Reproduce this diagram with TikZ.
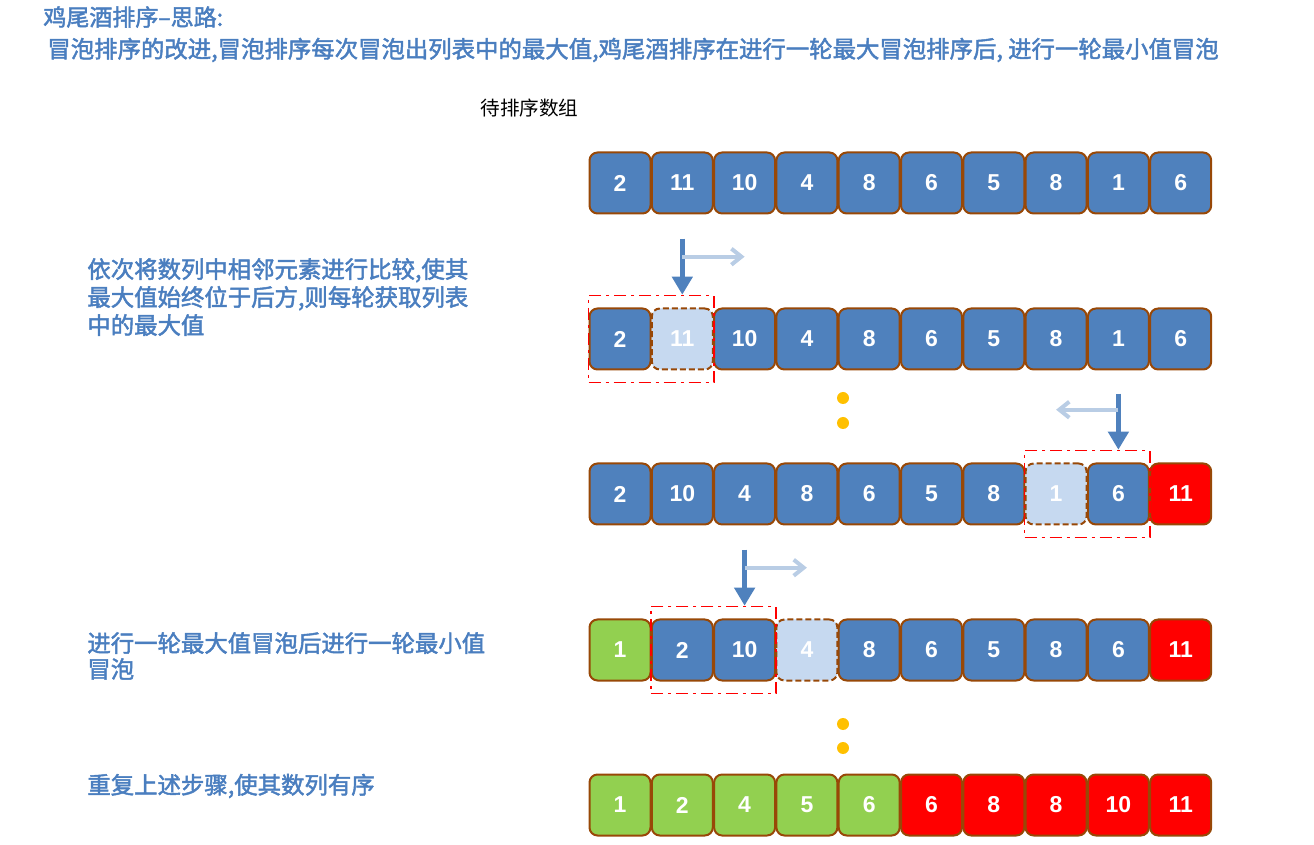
\documentclass[tikz,border=0pt]{standalone}
\usepackage{fontspec}
\usepackage{tikz}
\usetikzlibrary{positioning}
\usetikzlibrary{fit}
\usetikzlibrary{arrows.meta}
\newfontfamily\cjk{Noto Sans CJK SC}
\newfontfamily\cjkb[FakeBold=2]{Noto Sans CJK SC}
\newfontfamily\numf{Liberation Sans}
\definecolor{boxblue}{HTML}{4F81BD}
\definecolor{boxline}{HTML}{984807}
\definecolor{lightblue}{HTML}{C6D9F0}
\definecolor{boxgreen}{HTML}{92D050}
\definecolor{arrlight}{HTML}{B9CDE5}
\definecolor{txtblue}{HTML}{4A7EBF}
\definecolor{dotgold}{HTML}{FFC000}
\tikzset{
  cell/.style={draw=boxline,line width=1pt,rounded corners=4pt,minimum width=30.5pt,minimum height=30.5pt,inner sep=0pt,text=white,font=\numf\bfseries\fontsize{11.5}{13}\selectfont},
  bluecell/.style={cell,fill=boxblue},
  lightcell/.style={cell,fill=lightblue,dash pattern=on 3pt off 1.5pt},
  greencell/.style={cell,fill=boxgreen},
  redcell/.style={cell,fill=red},
  cmpframe/.style={draw=red,line width=0.8pt,dash pattern=on 6pt off 2.5pt on 1.5pt off 2.5pt,inner xsep=0pt,inner ysep=6pt},
  downarrow/.style={draw=boxblue,line width=2.5pt,-{Triangle[length=9pt,width=10pt]}},
  sidearrow/.style={draw=arrlight,line width=2pt,-{Straight Barb[length=5pt,width=8pt]}},
  dot/.style={circle,fill=dotgold,minimum size=6pt,inner sep=0pt},
  note/.style={anchor=west,inner sep=0pt,align=left,text=txtblue,font=\cjkb\fontsize{11.7}{14}\selectfont}
}
\begin{document}
\begin{tikzpicture}[x=0.5pt,y=-0.5pt,node distance=31.15pt]
  \useasboundingbox (0,0) rectangle (1314,845);
  % texts
  \node[note,font=\cjkb\fontsize{11.5}{13}\selectfont] (title) at (43,17) {鸡尾酒排序–思路:};
  \node[note] (idea) at (47,50) {冒泡排序的改进,冒泡排序每次冒泡出列表中的最大值,鸡尾酒排序在进行一轮最大冒泡排序后, 进行一轮最小值冒泡};
  \node[anchor=west,inner sep=0pt,font=\cjk\fontsize{9.8}{12}\selectfont] (input) at (480,108) {待排序数组};
  \node[note] (step1) at (87,297) {依次将数列中相邻元素进行比较,使其\\最大值始终位于后方,则每轮获取列表\\中的最大值};
  \node[note,font=\cjkb\fontsize{11.7}{13}\selectfont] (step2) at (87,656) {进行一轮最大值冒泡后进行一轮最小值\\冒泡};
  \node[note] (step3) at (87,786) {重复上述步骤,使其数列有序};

  % row 1
  \node[bluecell] (a1) at (620,183) {2};
  \node[bluecell,right of=a1] (a2) {11};
  \node[bluecell,right of=a2] (a3) {10};
  \node[bluecell,right of=a3] (a4) {4};
  \node[bluecell,right of=a4] (a5) {8};
  \node[bluecell,right of=a5] (a6) {6};
  \node[bluecell,right of=a6] (a7) {5};
  \node[bluecell,right of=a7] (a8) {8};
  \node[bluecell,right of=a8] (a9) {1};
  \node[bluecell,right of=a9] (a10) {6};

  % row 2
  \node[bluecell] (b1) at (620,339) {2};
  \node[lightcell,right of=b1] (b2) {11};
  \node[bluecell,right of=b2] (b3) {10};
  \node[bluecell,right of=b3] (b4) {4};
  \node[bluecell,right of=b4] (b5) {8};
  \node[bluecell,right of=b5] (b6) {6};
  \node[bluecell,right of=b6] (b7) {5};
  \node[bluecell,right of=b7] (b8) {8};
  \node[bluecell,right of=b8] (b9) {1};
  \node[bluecell,right of=b9] (b10) {6};

  % row 3
  \node[bluecell] (c1) at (620,494) {2};
  \node[bluecell,right of=c1] (c2) {10};
  \node[bluecell,right of=c2] (c3) {4};
  \node[bluecell,right of=c3] (c4) {8};
  \node[bluecell,right of=c4] (c5) {6};
  \node[bluecell,right of=c5] (c6) {5};
  \node[bluecell,right of=c6] (c7) {8};
  \node[lightcell,right of=c7] (c8) {1};
  \node[bluecell,right of=c8] (c9) {6};
  \node[redcell,right of=c9] (c10) {11};

  % row 4
  \node[greencell] (d1) at (620,650) {1};
  \node[bluecell,right of=d1] (d2) {2};
  \node[bluecell,right of=d2] (d3) {10};
  \node[lightcell,right of=d3] (d4) {4};
  \node[bluecell,right of=d4] (d5) {8};
  \node[bluecell,right of=d5] (d6) {6};
  \node[bluecell,right of=d6] (d7) {5};
  \node[bluecell,right of=d7] (d8) {8};
  \node[bluecell,right of=d8] (d9) {6};
  \node[redcell,right of=d9] (d10) {11};

  % row 5
  \node[greencell] (e1) at (620,805) {1};
  \node[greencell,right of=e1] (e2) {2};
  \node[greencell,right of=e2] (e3) {4};
  \node[greencell,right of=e3] (e4) {5};
  \node[greencell,right of=e4] (e5) {6};
  \node[redcell,right of=e5] (e6) {6};
  \node[redcell,right of=e6] (e7) {8};
  \node[redcell,right of=e7] (e8) {8};
  \node[redcell,right of=e8] (e9) {10};
  \node[redcell,right of=e9] (e10) {11};

  % compare frames and arrows
  \node[cmpframe,fit=(b1)(b2)] (fb) {};
  \node[cmpframe,fit=(c8)(c9)] (fc) {};
  \node[cmpframe,fit=(d2)(d3)] (fd) {};
  \coordinate (sb) at ([yshift=28pt]fb.north -| b2);
  \coordinate (sc) at ([yshift=28pt]fc.north -| c9);
  \coordinate (sd) at ([yshift=28pt]fd.north -| d3);
  \coordinate (hb) at ([yshift=-9pt]sb);
  \coordinate (hc) at ([yshift=-8pt]sc);
  \coordinate (hd) at ([yshift=-9pt]sd);
  \draw[downarrow] (sb) -- (fb.north -| b2);
  \draw[downarrow] (sc) -- (fc.north -| c9);
  \draw[downarrow] (sd) -- (fd.north -| d3);
  \draw[sidearrow] (hb) -- (hb -| b3);
  \draw[sidearrow] (hc) -- (hc -| c8);
  \draw[sidearrow] (hd) -- (hd -| d4);

  % dots
  \node[dot] (p1) at (843,398) {};
  \node[dot] (p2) at (843,423) {};
  \node[dot] (p3) at (843,724) {};
  \node[dot] (p4) at (843,748) {};
\end{tikzpicture}
\end{document}
